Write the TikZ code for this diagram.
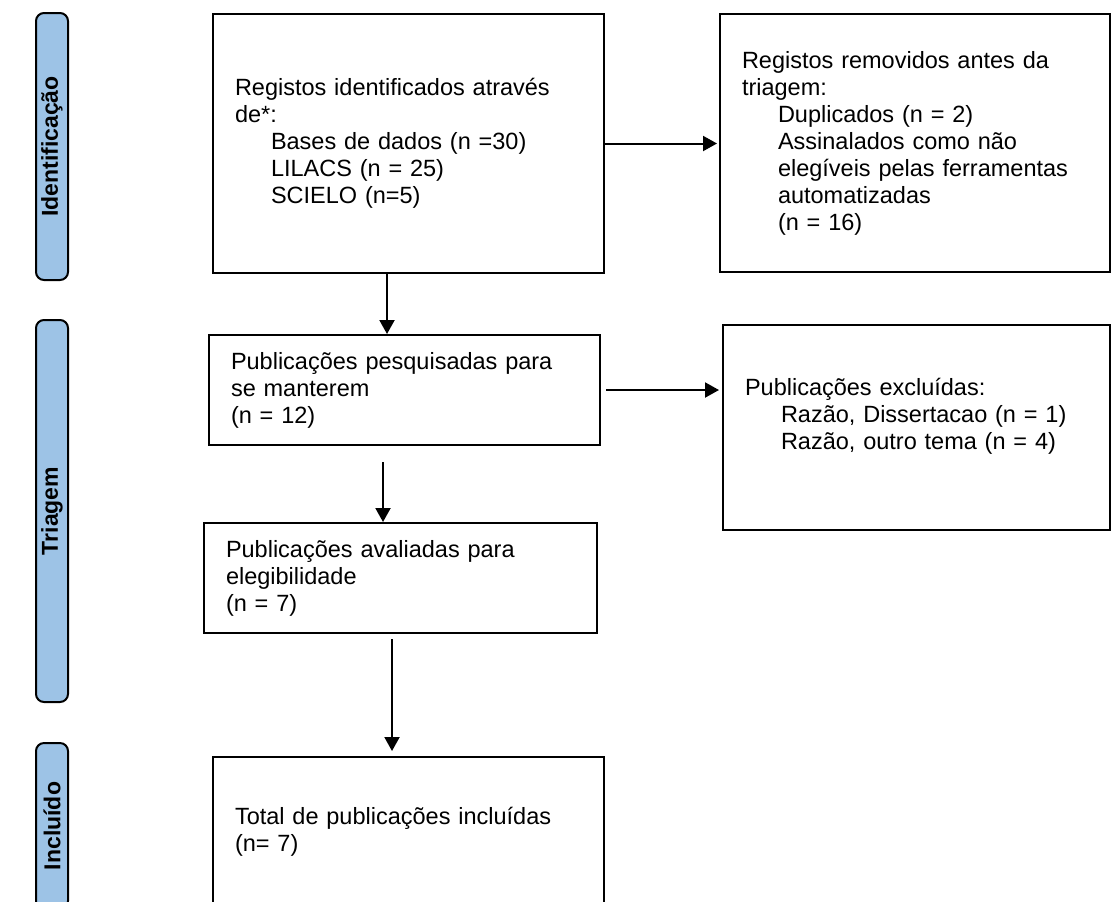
\documentclass[tikz,border=0pt]{standalone}
\usepackage{fontspec}
\setmainfont{Liberation Sans}
\usetikzlibrary{arrows.meta}
\definecolor{sideblue}{HTML}{9DC3E6}

\begin{document}
\begin{tikzpicture}[x=0.5pt,y=-0.5pt,
	box/.style={draw,line width=1pt,inner xsep=11pt,inner ysep=0pt,align=left,font=\fontsize{11.75pt}{13.5pt}\selectfont},
	side/.style={draw,line width=1pt,rounded corners=4pt,fill=sideblue,rotate=90,inner sep=0pt,font=\fontsize{11.5pt}{13pt}\selectfont\bfseries},
	arr/.style={line width=1pt,-{Triangle[length=7pt,width=7.5pt]}}]
	\useasboundingbox (0,0) rectangle (1111,901);
	\clip (0,0) rectangle (1111,901);
	% fases
	\node[side,minimum width=133.5pt,minimum height=16pt] (faseId) at (52,146.5) {Identificação};
	\node[side,minimum width=191pt,minimum height=16pt] (faseTri) at (52,511) {Triagem};
	\node[side,minimum width=83pt,minimum height=16pt] (faseInc) at (52,826) {Incluído};
	% caixas
	\node[box,text width=173.5pt,minimum height=129.5pt] (regId) at (408.5,143.5) {Registos identificados através\\de*:\\
		\hspace*{18pt}Bases de dados (n =30)\\\hspace*{18pt}LILACS (n = 25)\\\hspace*{18pt}SCIELO (n=5)};
	\node[box,text width=173pt,minimum height=129pt] (regRem) at (915,143) {Registos removidos antes da\\triagem:\\
		\hspace*{18pt}Duplicados (n = 2)\\\hspace*{18pt}Assinalados como não\\\hspace*{18pt}elegíveis pelas ferramentas\\
		\hspace*{18pt}automatizadas\\\hspace*{18pt}(n = 16)};
	\node[box,text width=173.5pt,minimum height=55pt] (pubPesq) at (404.5,390) {Publicações pesquisadas para\\se manterem\\(n = 12)};
	\node[box,text width=171.5pt,minimum height=102.5pt] (pubExcl) at (916.5,427) {Publicações excluídas:\\
		\hspace*{18pt}Razão, Dissertacao (n = 1)\\\hspace*{18pt}Razão, outro tema (n = 4)\\\mbox{}};
	\node[box,text width=174.5pt,minimum height=55pt] (pubAval) at (400.5,578) {Publicações avaliadas para\\elegibilidade\\(n = 7)};
	\node[box,text width=173.5pt,minimum height=75pt] (pubIncl) at (408.5,832) {Total de publicações incluídas\\(n= 7)};
	% setas
	\coordinate (s1) at ([xshift=-10.75pt]regId.south);
	\coordinate (s2) at ([xshift=-10.75pt]pubPesq.south);
	\coordinate (s3) at ([xshift=-4.25pt]pubAval.south);
	\draw[arr,shorten >=1pt] (regId.east) -- (regId.east -| regRem.west);
	\draw[arr] (s1) -- (s1 |- pubPesq.north);
	\draw[arr,shorten <=2.5pt,shorten >=1.5pt] (pubPesq.east) -- (pubPesq.east -| pubExcl.west);
	\draw[arr,shorten <=8pt] (s2) -- (s2 |- pubAval.north);
	\draw[arr,shorten <=2.5pt,shorten >=2.5pt] (s3) -- (s3 |- pubIncl.north);
\end{tikzpicture}
\end{document}
